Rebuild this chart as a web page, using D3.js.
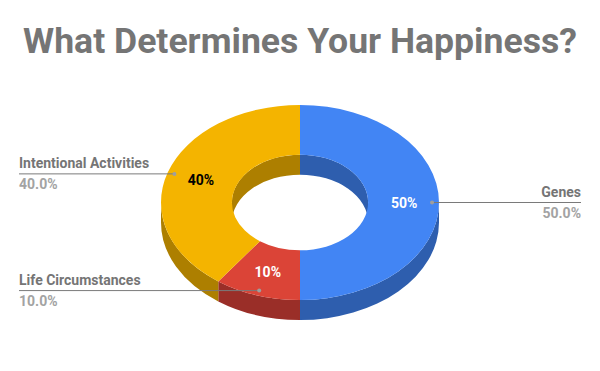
<!DOCTYPE html>
<html>
<head>
<meta charset="utf-8">
<script src="https://cdn.jsdelivr.net/npm/d3@7"></script>
<style>
  body { margin: 0; background: #fff; }
  svg { font-family: Roboto, "Noto Sans", sans-serif; }
</style>
</head>
<body>
<svg id="chart" width="600" height="371"></svg>
<script>
"use strict";

var categories = ['Genes', 'Life Circumstances', 'Intentional Activities'];
var values = [50, 10, 40];
var topColors = ['#4285f4', '#db4437', '#f4b400'];
var sideColors = ['#2e5eae', '#9a2e28', '#ad7f00'];
var labelColors = ['#ffffff', '#ffffff', '#000000'];

var title = 'What Determines Your Happiness?';

function make_chart(svg) {
  var width = +svg.attr('width');
  var cx = 300, cy = 202.5;
  var rx = 139, ry = 97.5;
  var hole = 0.49;
  var depth = 20;
  var k = ry / rx;

  svg.append('text')
    .attr('x', width / 2)
    .attr('y', 53)
    .attr('text-anchor', 'middle')
    .attr('font-size', 35.6)
    .attr('font-weight', 'bold')
    .attr('fill', '#757575')
    .text(title);

  var pie = d3.pie().sort(null).value(function (d) { return d; });
  var arcs = pie(values);

  // point on the tilted ring, angle measured clockwise from 12 o'clock
  function pt(a, r, dy) {
    return [cx + r * rx * Math.sin(a), cy - r * ry * Math.cos(a) + (dy || 0)];
  }

  // band between an elliptical edge and the same edge moved down by depth
  function wall(a1, a2, r) {
    var p1 = pt(a1, r), p2 = pt(a2, r);
    var q2 = pt(a2, r, depth), q1 = pt(a1, r, depth);
    var erx = r * rx, ery = r * ry;
    return 'M' + p1 + 'A' + erx + ',' + ery + ' 0 0 1 ' + p2 +
      'L' + q2 + 'A' + erx + ',' + ery + ' 0 0 0 ' + q1 + 'Z';
  }

  function clip(a1, a2, lo, hi) {
    var s = Math.max(a1, lo), e = Math.min(a2, hi);
    return s < e ? [s, e] : null;
  }

  var g = svg.append('g');

  // inner walls, seen through the hole at the back
  arcs.forEach(function (d, i) {
    [[-Math.PI / 2, Math.PI / 2], [1.5 * Math.PI, 2.5 * Math.PI]].forEach(function (rg) {
      var c = clip(d.startAngle, d.endAngle, rg[0], rg[1]);
      if (c) {
        g.append('path').attr('d', wall(c[0], c[1], hole)).attr('fill', sideColors[i]);
      }
    });
  });

  // outer walls, front half
  arcs.forEach(function (d, i) {
    var c = clip(d.startAngle, d.endAngle, Math.PI / 2, 1.5 * Math.PI);
    if (c) {
      g.append('path').attr('d', wall(c[0], c[1], 1)).attr('fill', sideColors[i]);
    }
  });

  // top faces
  var arc = d3.arc().innerRadius(rx * hole).outerRadius(rx);
  g.append('g')
    .attr('transform', 'translate(' + cx + ',' + cy + ') scale(1,' + k + ')')
    .selectAll('path')
    .data(arcs)
    .enter().append('path')
    .attr('d', arc)
    .attr('fill', function (d, i) { return topColors[i]; });

  // slice labels
  arcs.forEach(function (d, i) {
    var mid = (d.startAngle + d.endAngle) / 2;
    var p = pt(mid, 0.75);
    g.append('text')
      .attr('x', p[0])
      .attr('y', p[1] + 5)
      .attr('text-anchor', 'middle')
      .attr('font-size', 14)
      .attr('font-weight', 'bold')
      .attr('fill', labelColors[i])
      .text(d3.format('.0%')(d.data / d3.sum(values)));
  });

  // leader lines and outside labels
  var leftX = 19, rightX = 581;
  arcs.forEach(function (d, i) {
    var mid = (d.startAngle + d.endAngle) / 2;
    var p = pt(mid, 0.95);
    var left = mid > Math.PI;
    var endX = left ? leftX : rightX;
    var anchor = left ? 'start' : 'end';

    g.append('line')
      .attr('x1', p[0]).attr('y1', p[1])
      .attr('x2', endX).attr('y2', p[1])
      .attr('stroke', '#7a7a7a')
      .attr('stroke-width', 1);
    g.append('circle')
      .attr('cx', p[0]).attr('cy', p[1])
      .attr('r', 2)
      .attr('fill', '#9e9e9e');

    g.append('text')
      .attr('x', endX).attr('y', p[1] - 6)
      .attr('text-anchor', anchor)
      .attr('font-size', 14)
      .attr('font-weight', 'bold')
      .attr('fill', '#757575')
      .text(categories[i]);
    g.append('text')
      .attr('x', endX).attr('y', p[1] + 15)
      .attr('text-anchor', anchor)
      .attr('font-size', 14)
      .attr('font-weight', 'bold')
      .attr('fill', '#a3a3a3')
      .text(d3.format('.1%')(d.data / d3.sum(values)));
  });
}

make_chart(d3.select('#chart'));
</script>
</body>
</html>
